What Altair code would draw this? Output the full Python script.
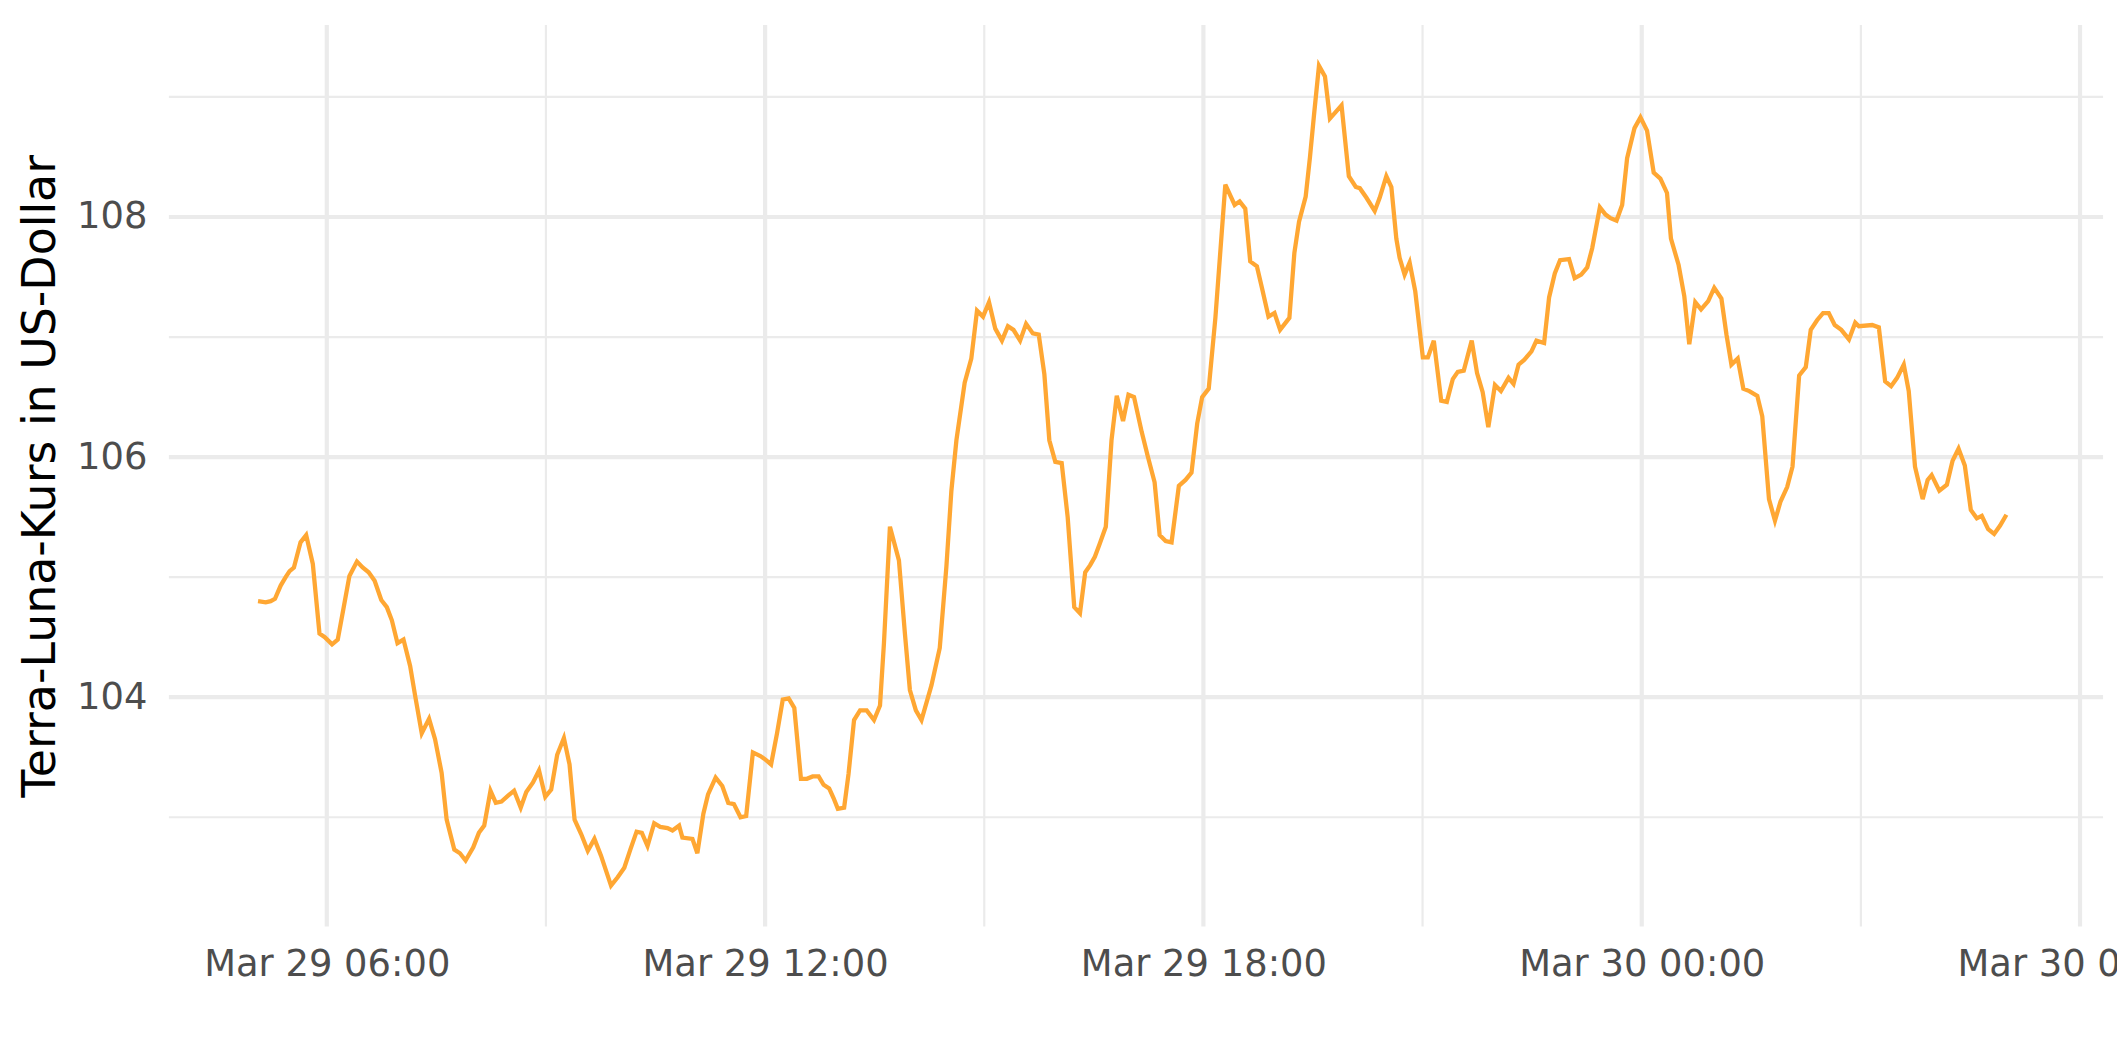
import altair as alt
import pandas as pd

# hours since 2022-03-29 00:00 (local) and Terra-Luna price in USD
hours = [
    5.059, 5.164, 5.232, 5.291, 5.369, 5.437, 5.491, 5.55, 5.641, 5.718,
    5.809, 5.9, 5.973, 6.072, 6.15, 6.232, 6.31, 6.413, 6.491, 6.573,
    6.655, 6.746, 6.822, 6.891, 6.968, 7.05, 7.141, 7.21, 7.3, 7.4,
    7.482, 7.572, 7.641, 7.746, 7.823, 7.9, 8.005, 8.082, 8.155, 8.241,
    8.314, 8.391, 8.482, 8.564, 8.655, 8.731, 8.823, 8.905, 8.991, 9.072,
    9.154, 9.246, 9.323, 9.392, 9.482, 9.573, 9.664, 9.754, 9.891, 9.982,
    10.073, 10.155, 10.241, 10.313, 10.391, 10.482, 10.564, 10.664, 10.732, 10.823,
    10.868, 11.005, 11.073, 11.155, 11.219, 11.323, 11.414, 11.496, 11.573, 11.664,
    11.741, 11.833, 11.936, 12.005, 12.082, 12.164, 12.242, 12.323, 12.4, 12.491,
    12.573, 12.651, 12.733, 12.801, 12.877, 12.937, 12.996, 13.082, 13.142, 13.218,
    13.3, 13.391, 13.491, 13.573, 13.627, 13.709, 13.832, 13.914, 13.982, 14.064,
    14.141, 14.278, 14.391, 14.482, 14.55, 14.619, 14.732, 14.823, 14.901, 14.983,
    15.065, 15.151, 15.242, 15.324, 15.4, 15.491, 15.573, 15.665, 15.746, 15.823,
    15.891, 15.973, 16.06, 16.142, 16.232, 16.31, 16.382, 16.45, 16.514, 16.582,
    16.664, 16.742, 16.814, 16.9, 16.974, 17.05, 17.155, 17.241, 17.332, 17.401,
    17.483, 17.564, 17.664, 17.755, 17.837, 17.915, 17.983, 18.073, 18.164, 18.3,
    18.428, 18.496,
    18.573, 18.641, 18.732, 18.801, 18.891, 18.973, 19.05, 19.177, 19.245, 19.309,
    19.4, 19.459, 19.514, 19.582, 19.664, 19.732, 19.891, 19.991, 20.086, 20.141,
    20.232, 20.345, 20.413, 20.504, 20.573, 20.641, 20.686, 20.754, 20.823, 20.9,
    21.004, 21.073, 21.154, 21.255, 21.332, 21.414, 21.482, 21.564, 21.673, 21.746,
    21.823, 21.9, 21.991, 22.073, 22.177, 22.245, 22.314, 22.391, 22.491, 22.559,
    22.664, 22.732, 22.81, 22.882, 23.005, 23.082, 23.172, 23.254, 23.322, 23.427,
    23.505, 23.573, 23.655, 23.732, 23.8, 23.901, 23.983, 24.073, 24.164, 24.255,
    24.346, 24.4, 24.505, 24.583, 24.651, 24.733, 24.812, 24.91, 24.993, 25.091,
    25.16, 25.228, 25.314, 25.391, 25.473, 25.582, 25.65, 25.742, 25.824, 25.9,
    25.991, 26.064, 26.155, 26.246, 26.314, 26.4, 26.482, 26.56, 26.642, 26.732,
    26.837, 26.923, 26.973, 27.155, 27.246, 27.332, 27.414, 27.496, 27.587, 27.655,
    27.741, 27.846, 27.914, 27.969, 28.074, 28.177, 28.255, 28.337, 28.423, 28.505,
    28.587, 28.655, 28.742, 28.824, 28.906, 28.992,
]

prices = [
    104.80, 104.79, 104.80, 104.82, 104.93, 105.00, 105.05, 105.08, 105.29, 105.35,
    105.11, 104.53, 104.50, 104.44, 104.48, 104.75, 105.01, 105.13, 105.08, 105.04,
    104.97, 104.81, 104.75, 104.64, 104.45, 104.48, 104.26, 104.01, 103.70, 103.82,
    103.65, 103.37, 102.98, 102.73, 102.70, 102.64, 102.75, 102.87, 102.93, 103.22,
    103.12, 103.13, 103.18, 103.22, 103.08, 103.21, 103.29, 103.39, 103.17, 103.23,
    103.52, 103.66, 103.44, 102.98, 102.86, 102.72, 102.82, 102.68, 102.43, 102.50,
    102.58, 102.73, 102.88, 102.87, 102.76, 102.95, 102.92, 102.91, 102.89, 102.93,
    102.83, 102.82, 102.70, 103.03, 103.19, 103.33, 103.26, 103.12, 103.11, 103.00,
    103.01, 103.54, 103.51, 103.48, 103.44, 103.70, 103.98, 103.99, 103.91, 103.32,
    103.32, 103.34, 103.34, 103.27, 103.24, 103.16, 103.07, 103.08, 103.36, 103.81,
    103.89, 103.89, 103.81, 103.93, 104.45, 105.42, 105.14, 104.53, 104.06, 103.89,
    103.81, 104.10, 104.41, 105.09, 105.72, 106.14, 106.62, 106.82, 107.22, 107.17,
    107.29, 107.07, 106.97, 107.09, 107.06, 106.97, 107.11, 107.03, 107.02, 106.69,
    106.14, 105.96, 105.95, 105.50, 104.75, 104.70, 105.04, 105.10, 105.17, 105.28,
    105.42, 106.14, 106.51, 106.30, 106.52, 106.50, 106.21, 106.00, 105.79, 105.35,
    105.30, 105.29, 105.76, 105.81, 105.87, 106.28, 106.50, 106.57, 107.16, 108.27,
    108.10, 108.13,
    108.07, 107.63, 107.59, 107.41, 107.17, 107.20, 107.06, 107.16, 107.70, 107.96,
    108.17, 108.50, 108.85, 109.26, 109.17, 108.82, 108.93, 108.34, 108.25, 108.24,
    108.16, 108.05, 108.16, 108.34, 108.25, 107.82, 107.66, 107.52, 107.62, 107.38,
    106.83, 106.83, 106.97, 106.47, 106.46, 106.65, 106.71, 106.72, 106.97, 106.70,
    106.54, 106.25, 106.60, 106.55, 106.66, 106.61, 106.77, 106.81, 106.88, 106.97,
    106.95, 107.33, 107.53, 107.64, 107.65, 107.49, 107.52, 107.58, 107.74, 108.08,
    108.02, 107.99, 107.97, 108.10, 108.49, 108.74, 108.83, 108.72, 108.37, 108.32,
    108.20, 107.82, 107.60, 107.34, 106.94, 107.29, 107.23, 107.30, 107.41, 107.32,
    107.02, 106.77, 106.82, 106.57, 106.55, 106.51, 106.34, 105.65, 105.47, 105.63,
    105.75, 105.92, 106.68, 106.75, 107.06, 107.14, 107.20, 107.20, 107.10, 107.06,
    106.98, 107.12, 107.09, 107.10, 107.08, 106.63, 106.59, 106.66, 106.77, 106.55,
    105.92, 105.65, 105.81, 105.85, 105.72, 105.77, 105.97, 106.07, 105.93, 105.56,
    105.49, 105.51, 105.40, 105.36, 105.43, 105.52,
]

major_y = [104, 106, 108]
minor_y = [103, 105, 107, 109]
major_x_hours = [6, 12, 18, 24, 30]
minor_x_hours = [9, 15, 21, 27]

base = pd.Timestamp("2022-03-29 00:00:00")


def stamps(hs):
    return [(base + pd.to_timedelta(h, unit="h")).strftime("%Y-%m-%dT%H:%M:%S") for h in hs]


df = pd.DataFrame({"t": stamps(hours), "price": prices})
df_major_x = pd.DataFrame({"t": stamps(major_x_hours)})
df_minor_x = pd.DataFrame({"t": stamps(minor_x_hours)})
df_major_y = pd.DataFrame({"price": major_y})
df_minor_y = pd.DataFrame({"price": minor_y})

W = 1941.5
H = 905

x_dom = [
    alt.DateTime(year=2022, month=3, date=29, hours=3, minutes=50, seconds=19),
    alt.DateTime(year=2022, month=3, date=30, hours=6, minutes=18, seconds=54),
]
x_ticks = [
    alt.DateTime(year=2022, month=3, date=29, hours=6),
    alt.DateTime(year=2022, month=3, date=29, hours=12),
    alt.DateTime(year=2022, month=3, date=29, hours=18),
    alt.DateTime(year=2022, month=3, date=30, hours=0),
    alt.DateTime(year=2022, month=3, date=30, hours=6),
]
xscale = alt.Scale(domain=x_dom, nice=False)
yscale = alt.Scale(domain=[102.09, 109.6], nice=False, zero=False)

xaxis = alt.Axis(
    values=x_ticks,
    format="%b %d %H:%M",
    title=None,
    grid=False,
    domain=False,
    ticks=False,
    labelPadding=20,
    labelFontSize=37,
    labelFont="DejaVu Sans",
    labelColor="#4D4D4D",
    labelFlush=False,
    labelOverlap=False,
    labelLimit=600,
)
yaxis = alt.Axis(
    values=major_y,
    title="Terra-Luna-Kurs in US-Dollar",
    grid=False,
    domain=False,
    ticks=False,
    labelPadding=22,
    labelFontSize=37,
    labelFont="DejaVu Sans",
    labelColor="#4D4D4D",
    labelLimit=600,
    titleFont="DejaVu Sans",
    titleFontSize=46,
    titleFontWeight="normal",
    titleColor="#000000",
    titlePadding=12,
    titleLimit=2000,
)

X = alt.X("t:T", scale=xscale, axis=xaxis)
Y = alt.Y("price:Q", scale=yscale, axis=yaxis)

GRID = "#EBEBEB"

minor_x = alt.Chart(df_minor_x).mark_rule(color=GRID, strokeWidth=2.2).encode(
    x=X, y=alt.value(0), y2=alt.value(H),
)
major_x = alt.Chart(df_major_x).mark_rule(color=GRID, strokeWidth=4.2).encode(
    x=X, y=alt.value(0), y2=alt.value(H),
)
minor_yl = alt.Chart(df_minor_y).mark_rule(color=GRID, strokeWidth=2.2).encode(
    y=Y, x=alt.value(0), x2=alt.value(W),
)
major_yl = alt.Chart(df_major_y).mark_rule(color=GRID, strokeWidth=4.2).encode(
    y=Y, x=alt.value(0), x2=alt.value(W),
)

line = alt.Chart(df).mark_line(color="#FFA733", strokeWidth=4.3).encode(x=X, y=Y)

chart = (
    alt.layer(minor_x, major_x, minor_yl, major_yl, line)
    .properties(
        width=W,
        height=H,
        autosize=alt.AutoSizeParams(type="none"),
        padding={"left": 161.5, "top": 15, "right": 14, "bottom": 120},
        background="white",
    )
    .configure_view(stroke=None)
)

chart.save("out.html", embed_options={"renderer": "svg", "actions": False})
